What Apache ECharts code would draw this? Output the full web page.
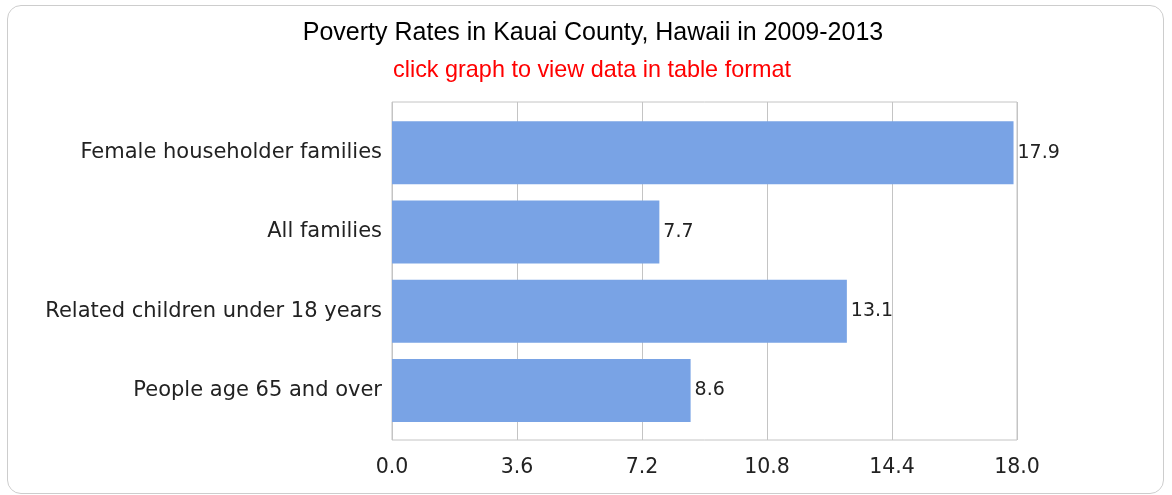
<!DOCTYPE html>
<html>
<head>
<meta charset="utf-8">
<script src="https://cdn.jsdelivr.net/npm/echarts@6/dist/echarts.min.js"></script>
<style>
    html, body { margin: 0; padding: 0; background: #fff; }
    #wrap { position: relative; width: 1172px; height: 495px; }
    #chart { position: absolute; left: 0; top: 0; width: 1172px; height: 495px; }
    #frame {
        position: absolute; left: 7px; top: 5px; width: 1155px; height: 487px;
        border: 1px solid #cdcdcd; border-radius: 14px; pointer-events: none;
    }
</style>
</head>
<body>
<div id="wrap">
    <div id="chart"></div>
    <div id="frame"></div>
</div>
<script>
// poverty rates, percent
var categories = [
    'Female householder families',
    'All families',
    'Related children under 18 years',
    'People age 65 and over'
];
var rates = [17.9, 7.7, 13.1, 8.6];
var axisMin = 0, axisMax = 18, axisStep = 3.6;

var titleText = 'Poverty Rates in Kauai County, Hawaii in 2009-2013';
var subText = 'click graph to view data in table format';

var labelFont = 'DejaVu Sans';

var chart = echarts.init(document.getElementById('chart'));

var options = {
    animation: false,
    title: [
        {
            text: titleText,
            left: 588,
            top: 16,
            textAlign: 'center',
            textStyle: { fontFamily: 'Liberation Sans', fontSize: 25, fontWeight: 'normal', color: '#000' }
        },
        {
            text: subText,
            left: 587,
            top: 54,
            textAlign: 'center',
            textStyle: { fontFamily: 'Liberation Sans', fontSize: 23.4, fontWeight: 'normal', color: '#ff0000' }
        }
    ],
    grid: [
        // frame + value grid
        { left: 392, top: 102, width: 625, height: 338, show: true, borderColor: '#c4c4c4', borderWidth: 1 },
        // bars
        { left: 392, top: 113, width: 625, height: 317 }
    ],
    xAxis: [
        {
            gridIndex: 0,
            type: 'value',
            min: axisMin,
            max: axisMax,
            interval: axisStep,
            axisLine: { show: false },
            axisTick: { show: false },
            splitLine: { lineStyle: { color: '#c4c4c4', width: 1 } },
            axisLabel: {
                margin: 17,
                fontFamily: labelFont,
                fontSize: 20.5,
                color: '#222',
                formatter: function(v) { return v.toFixed(1); }
            }
        },
        {
            gridIndex: 1,
            type: 'value',
            min: axisMin,
            max: axisMax,
            show: false
        }
    ],
    yAxis: [
        { gridIndex: 0, type: 'value', show: false },
        {
            gridIndex: 1,
            type: 'category',
            inverse: true,
            data: categories,
            axisLine: { show: false },
            axisTick: { show: false },
            splitLine: { show: false },
            axisLabel: {
                margin: 10,
                fontFamily: labelFont,
                fontSize: 21,
                color: '#222'
            }
        }
    ],
    series: [
        {
            type: 'bar',
            xAxisIndex: 1,
            yAxisIndex: 1,
            data: rates,
            barWidth: 63,
            itemStyle: { color: '#79a3e5' },
            label: {
                show: true,
                position: 'right',
                distance: 4,
                fontFamily: labelFont,
                fontSize: 19,
                color: '#222',
                formatter: function(p) { return p.value.toFixed(1); }
            }
        }
    ]
};

chart.setOption(options);
</script>
</body>
</html>
